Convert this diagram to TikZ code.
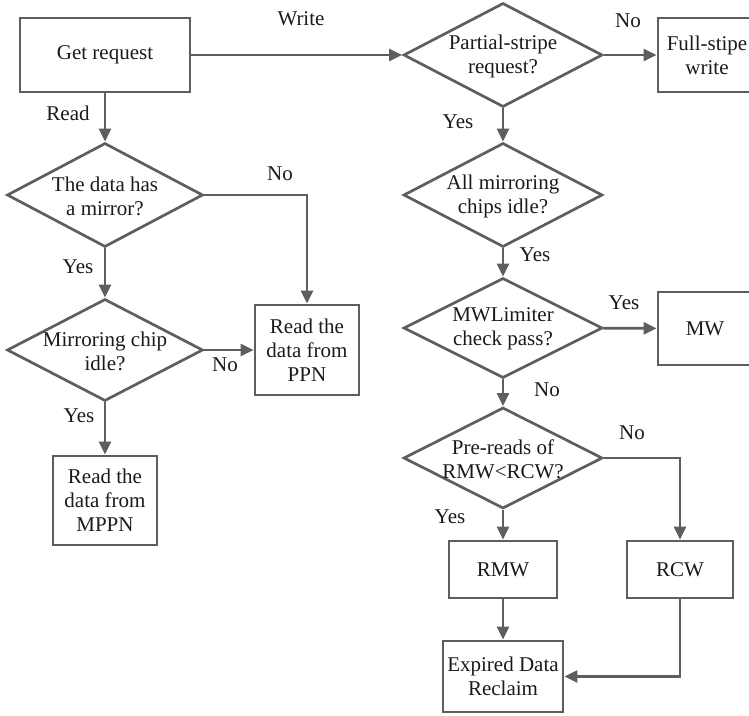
\documentclass[tikz,border=0pt]{standalone}
\usepackage{fontspec}
\setmainfont{Liberation Serif}
\usetikzlibrary{shapes.geometric,arrows.meta}
\definecolor{edge}{HTML}{5E5E5E}
\definecolor{ink}{HTML}{1A1A1A}

\begin{document}
\begin{tikzpicture}[x=1pt,y=-1pt,
  txt/.style={font=\fontsize{21}{24}\selectfont, text=ink, inner sep=0pt, align=center},
  stepbox/.style={txt, draw=edge, line width=2.7pt, rectangle},
  decision/.style={draw=edge, line width=2.7pt, diamond, inner sep=0pt},
  flow/.style={draw=edge, line width=2.7pt, -{Triangle[length=13pt,width=12pt]}}]

\useasboundingbox (0,0) rectangle (749,715);

% process boxes
\node[stepbox, minimum width=170pt, minimum height=74pt] (get)  at (105,55)    {Get request};
\node[stepbox, minimum width=104pt, minimum height=74pt] (full) at (710,55)    {};
\node[txt] (fullt) at (707,55) {Full-stipe\\write};
\node[stepbox, minimum width=104pt, minimum height=90pt] (ppn)  at (307,350)   {Read the\\data from\\PPN};
\node[stepbox, minimum width=104pt, minimum height=89pt] (mppn) at (105,500.5) {Read the\\data from\\MPPN};
\node[stepbox, minimum width=100pt, minimum height=73pt] (mw)   at (708,328.5) {};
\node[txt] (mwt) at (705,328.5) {MW};
\node[stepbox, minimum width=108pt, minimum height=57pt] (rmw)  at (503,569.5) {RMW};
\node[stepbox, minimum width=106pt, minimum height=57pt] (rcw)  at (680,569.5) {RCW};
\node[stepbox, minimum width=120pt, minimum height=71pt] (exp)  at (503,676.5) {Expired Data\\Reclaim};

% decisions
\node[decision, minimum width=196pt, minimum height=104pt] (mir)  at (105,195) {};
\node[txt] (mirt) at (105,196) {The data has\\a mirror?};
\node[decision, minimum width=196pt, minimum height=102pt] (chip) at (105,350) {};
\node[txt] (chipt) at (105,351) {Mirroring chip\\idle?};
\node[decision, minimum width=199pt, minimum height=104pt] (part) at (503,55)  {};
\node[txt] (partt) at (503,56) {Partial-stripe\\request?};
\node[decision, minimum width=199pt, minimum height=104pt] (allm) at (503,195) {};
\node[txt] (allmt) at (503,196) {All mirroring\\chips idle?};
\node[decision, minimum width=199pt, minimum height=100pt] (mwl)  at (503,328) {};
\node[txt] (mwlt) at (503,329) {MWLimiter\\check pass?};
\node[decision, minimum width=199pt, minimum height=101pt] (pre)  at (503,458) {};
\node[txt] (pret) at (503,459) {Pre-reads of\\RMW<RCW?};

% connectors
\draw[flow] (get) -- (part);
\draw[flow] (part) -- (full);
\draw[flow] (part) -- (allm);
\draw[flow] (allm) -- (mwl);
\draw[flow] (mwl) -- (mw);
\draw[flow] (mwl) -- (pre);
\draw[flow] (pre.east) -| (rcw.north);
\draw[flow] (pre) -- (rmw);
\draw[flow] (rmw) -- (exp);
\draw[flow] (rcw.south) |- (exp.east);
\draw[flow] (get) -- (mir);
\draw[flow] (mir.east) -| (ppn.north);
\draw[flow] (mir) -- (chip);
\draw[flow] (chip.east) -- (ppn.west);
\draw[flow] (chip) -- (mppn);

% branch labels
\node[txt] (lwrite) at (301,19)  {Write};
\node[txt] (lread)  at (68,113)  {Read};
\node[txt] (lno1)   at (280,174) {No};
\node[txt] (lyes1)  at (78,267)  {Yes};
\node[txt] (lno2)   at (225,365) {No};
\node[txt] (lyes2)  at (79,416)  {Yes};
\node[txt] (lno3)   at (628,21)  {No};
\node[txt] (lyes3)  at (458,122) {Yes};
\node[txt] (lyes4)  at (535,255) {Yes};
\node[txt] (lyes5)  at (624,303) {Yes};
\node[txt] (lno4)   at (547,390) {No};
\node[txt] (lno5)   at (632,433) {No};
\node[txt] (lyes6)  at (450,517) {Yes};
\end{tikzpicture}
\end{document}
